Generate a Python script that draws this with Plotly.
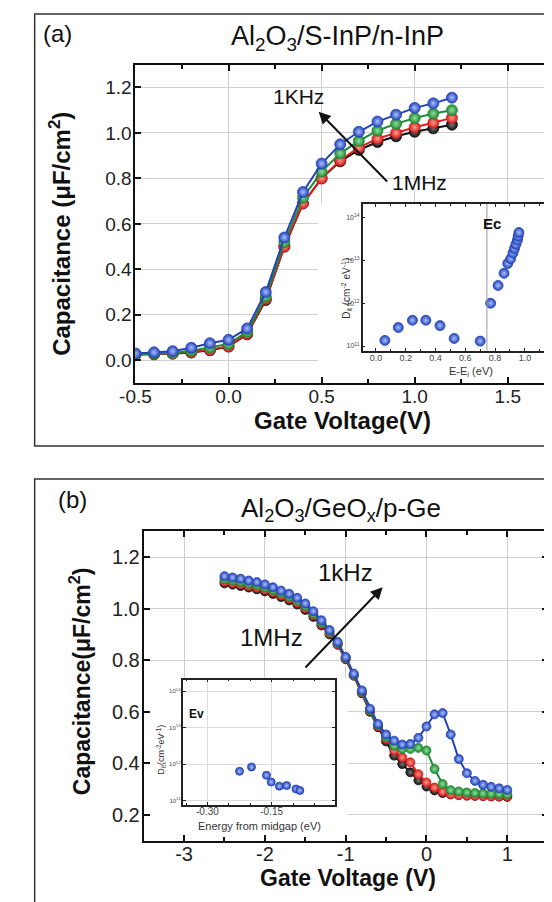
import plotly.graph_objects as go

W, H = 552, 902
FONT = "Liberation Sans, Arial, sans-serif"

# ---------------- Panel (a) : Al2O3/S-InP/n-InP ----------------
va = [-0.5, -0.4, -0.3, -0.2, -0.1, 0.0, 0.1, 0.2, 0.3, 0.4, 0.5, 0.6, 0.7, 0.8, 0.9, 1.0, 1.1, 1.2]
a_1kHz = [0.030, 0.035, 0.040, 0.055, 0.075, 0.090, 0.140, 0.300, 0.540, 0.740, 0.865, 0.950, 1.005, 1.050, 1.080, 1.110, 1.130, 1.155]
a_mid1 = [0.025, 0.030, 0.032, 0.042, 0.056, 0.072, 0.125, 0.280, 0.520, 0.715, 0.830, 0.910, 0.965, 1.010, 1.040, 1.065, 1.085, 1.100]
a_mid2 = [0.025, 0.027, 0.030, 0.036, 0.046, 0.062, 0.116, 0.270, 0.500, 0.690, 0.800, 0.880, 0.935, 0.975, 1.000, 1.025, 1.045, 1.066]
a_1MHz = [0.025, 0.026, 0.029, 0.034, 0.044, 0.060, 0.114, 0.265, 0.500, 0.690, 0.800, 0.875, 0.925, 0.960, 0.985, 1.005, 1.020, 1.036]
a_xticks = [-0.5, 0.0, 0.5, 1.0, 1.5]
a_xlabels = ["-0.5", "0.0", "0.5", "1.0", "1.5"]

# inset (a): Dit vs E-Ei
ia_E = [0.06, 0.15, 0.245, 0.335, 0.43, 0.525, 0.70, 0.77, 0.82, 0.86, 0.885, 0.905, 0.92, 0.93, 0.94, 0.95, 0.955, 0.96]
ia_D = [1.35e11, 2.7e11, 4.0e11, 4.0e11, 3.0e11, 1.5e11, 1.3e11, 1.0e12, 2.6e12, 5.0e12, 8.5e12, 1.1e13, 1.5e13, 1.9e13, 2.4e13, 3.0e13, 3.7e13, 4.5e13]
ia_Ec = 0.745

# ---------------- Panel (b) : Al2O3/GeOx/p-Ge ----------------
vb = [-2.5, -2.4, -2.3, -2.2, -2.1, -2.0, -1.9, -1.8, -1.7, -1.6, -1.5, -1.4, -1.3, -1.2, -1.1, -1.0,
      -0.9, -0.8, -0.7, -0.6, -0.5, -0.4, -0.3, -0.2, -0.1, 0.0, 0.1, 0.2, 0.3, 0.4, 0.5, 0.6, 0.7, 0.8, 0.9, 1.0]
b_1kHz = [1.126, 1.121, 1.116, 1.109, 1.103, 1.094, 1.083, 1.070, 1.058, 1.042, 1.020, 0.990, 0.955, 0.917, 0.871, 0.813,
          0.748, 0.683, 0.612, 0.553, 0.512, 0.488, 0.473, 0.475, 0.499, 0.543, 0.590, 0.595, 0.512, 0.417, 0.362, 0.332,
          0.317, 0.309, 0.303, 0.297]
b_mid1 = [1.114, 1.109, 1.104, 1.097, 1.091, 1.082, 1.072, 1.060, 1.047, 1.031, 1.010, 0.980, 0.946, 0.910, 0.866, 0.809,
          0.744, 0.678, 0.607, 0.548, 0.502, 0.468, 0.456, 0.456, 0.460, 0.450, 0.378, 0.320, 0.296, 0.291, 0.287, 0.285,
          0.283, 0.282, 0.281, 0.280]
b_mid2 = [1.105, 1.100, 1.095, 1.088, 1.082, 1.074, 1.064, 1.052, 1.039, 1.023, 1.002, 0.974, 0.940, 0.905, 0.862, 0.806,
          0.741, 0.675, 0.603, 0.544, 0.495, 0.450, 0.423, 0.404, 0.358, 0.326, 0.306, 0.290, 0.280, 0.277, 0.275, 0.274,
          0.273, 0.272, 0.272, 0.272]
b_1MHz = [1.098, 1.093, 1.088, 1.082, 1.075, 1.067, 1.057, 1.045, 1.032, 1.016, 0.995, 0.968, 0.935, 0.900, 0.860, 0.804,
          0.740, 0.672, 0.600, 0.540, 0.485, 0.430, 0.397, 0.365, 0.334, 0.310, 0.295, 0.285, 0.280, 0.277, 0.275, 0.274,
          0.273, 0.272, 0.271, 0.270]
b_xticks = [-3, -2, -1, 0, 1]
b_xlabels = ["-3", "-2", "-1", "0", "1"]

# inset (b): Dit vs energy from midgap
ib_E = [-0.225, -0.197, -0.162, -0.151, -0.132, -0.115, -0.093, -0.084]
ib_D = [6.4e11, 8.4e11, 5.0e11, 3.25e11, 2.5e11, 2.6e11, 2.1e11, 1.9e11]
ib_xticks = [-0.30, -0.15, 0.0]
ib_xlabels = ["-0.30", "-0.15", "0.00"]

dec_vals = [1e11, 1e12, 1e13, 1e14]
dec_text = ["10<sup>11</sup>", "10<sup>12</sup>", "10<sup>13</sup>", "10<sup>14</sup>"]

# series styles: (dark colour, highlight colour)
STY = {
    "1MHz": ("#111111", "#777777"),
    "mid2": ("#d81e1e", "#ff9a8a"),
    "mid1": ("#1f8a35", "#8fe09a"),
    "1kHz": ("#2443b8", "#a9c0ff"),
}


def px2x(px):
    return px / W


def px2y(py):
    return 1 - py / H


fig = go.Figure()


def add_series(x, y, key, xa, ya, size, showline=True):
    dark, light = STY[key]
    fig.add_trace(go.Scatter(
        x=x, y=y, xaxis=xa, yaxis=ya,
        mode="lines+markers" if showline else "markers",
        line=dict(color=dark, width=2),
        marker=dict(size=size, color=dark, gradient=dict(type="radial", color=light),
                    line=dict(width=0.8, color=dark)),
        showlegend=False, hoverinfo="skip",
    ))


for ys, k in [(a_1MHz, "1MHz"), (a_mid2, "mid2"), (a_mid1, "mid1"), (a_1kHz, "1kHz")]:
    add_series(va, ys, k, "x", "y", 11)
add_series(ia_E, ia_D, "1kHz", "x2", "y2", 10, showline=False)
for ys, k in [(b_1MHz, "1MHz"), (b_mid2, "mid2"), (b_mid1, "mid1"), (b_1kHz, "1kHz")]:
    add_series(vb, ys, k, "x3", "y3", 9)
add_series(ib_E, ib_D, "1kHz", "x4", "y4", 8, showline=False)

GRID = "#cfcfcf"


def main_axis(domain, rng, anchor, size, minor=None, **kw):
    d = dict(domain=domain, range=rng, anchor=anchor,
             showline=True, linewidth=2, linecolor="#111", mirror="ticks",
             ticks="inside", ticklen=6, tickwidth=2, tickcolor="#111",
             showgrid=True, gridcolor=GRID, gridwidth=1, zeroline=False,
             tickfont=dict(family=FONT, size=size, color="#222"))
    if minor:
        d["minor"] = dict(dtick=minor, ticks="inside", ticklen=4, tickwidth=1.5, tickcolor="#111", showgrid=False)
    d.update(kw)
    return d


def inset_axis(domain, rng, size, anchor, **kw):
    d = dict(domain=domain, range=rng, anchor=anchor,
             showline=True, linewidth=1.5, linecolor="#222", mirror="ticks",
             ticks="inside", ticklen=3, tickwidth=1, tickcolor="#222",
             zeroline=False, tickfont=dict(family=FONT, size=size, color="#444"))
    d.update(kw)
    return d


layout = dict(
    width=W, height=H, margin=dict(l=0, r=0, t=0, b=0),
    paper_bgcolor="white", plot_bgcolor="white", showlegend=False,
    xaxis=main_axis([px2x(115), px2x(551)], [-0.5, 1.77], "y", 19, minor=0.25,
                    tickvals=a_xticks, ticktext=a_xlabels, ticklabelstandoff=-5),
    yaxis=main_axis([px2y(375), px2y(56.7)], [-0.1, 1.3], "x", 19, dtick=0.2, tick0=0, tickformat=".1f",
                    ticklabelstandoff=-2),
    xaxis3=main_axis([px2x(123.5), px2x(540.3)], [-3.5, 1.5], "y3", 20, minor=0.5,
                     tickvals=b_xticks, ticktext=b_xlabels, ticklabelstandoff=-6),
    yaxis3=main_axis([px2y(832.7), px2y(523.3)], [0.1, 1.3], "x3", 20, dtick=0.2, tick0=0.2, tickformat=".1f",
                     ticklabelstandoff=-2),
    xaxis2=inset_axis([px2x(349.3), px2x(546)], [-0.09, 1.19], 9, "y2",
                      dtick=0.2, tick0=0, tickformat=".1f", showgrid=False, ticklabelstandoff=-2,
                      minor=dict(dtick=0.1, ticks="inside", ticklen=2, tickcolor="#222")),
    yaxis2=inset_axis([px2y(342.7), px2y(196)], [10.89, 14.32], 7, "x2", type="log",
                      tickvals=dec_vals, ticktext=dec_text, showgrid=False),
    xaxis4=inset_axis([px2x(164.5), px2x(320.4)], [-0.356, -0.003], 10, "y4",
                      tickvals=ib_xticks, ticktext=ib_xlabels, ticklabelstandoff=-3,
                      showgrid=True, gridcolor="#dddddd",
                      minor=dict(dtick=0.05, ticks="inside", ticklen=2, tickcolor="#222")),
    yaxis4=inset_axis([px2y(796.7), px2y(671.7)], [10.89, 14.32], 6, "x4", type="log",
                      tickvals=dec_vals, ticktext=dec_text, showgrid=True, gridcolor="#dddddd"),
)
fig.update_layout(**layout)

# outer frames
fig.add_shape(type="rect", xref="paper", yref="paper", x0=px2x(11), x1=1.02, y0=px2y(438), y1=px2y(6),
              line=dict(color="#333", width=1.5), fillcolor="rgba(0,0,0,0)")
fig.add_shape(type="rect", xref="paper", yref="paper", x0=px2x(11), x1=1.02, y0=-0.02, y1=px2y(471),
              line=dict(color="#333", width=1.5), fillcolor="rgba(0,0,0,0)")
# white masks hiding the main grid behind each inset (above grid, below traces)
fig.add_shape(type="rect", xref="x", yref="y", x0=0.48, x1=1.77, y0=-0.1, y1=0.69,
              layer="between", line=dict(width=0), fillcolor="white")
fig.add_shape(type="rect", xref="x3", yref="y3", x0=-3.5, x1=-0.975, y0=0.1, y1=0.731,
              layer="between", line=dict(width=0), fillcolor="white")
# Ec marker line in inset (a)
fig.add_shape(type="line", xref="x2", yref="y2 domain", x0=ia_Ec, x1=ia_Ec, y0=0, y1=1,
              line=dict(color="#999", width=1))

ann = []


def text(px, py, s, size, bold=False, angle=0, color="#111"):
    ann.append(dict(x=px2x(px), y=px2y(py), xref="paper", yref="paper", showarrow=False,
                    text=("<b>%s</b>" % s) if bold else s, textangle=angle,
                    font=dict(family=FONT, size=size, color=color), xanchor="center", yanchor="middle"))


# panel (a) texts
text(35, 26, "(a)", 24)
text(323, 30, "Al<sub>2</sub>O<sub>3</sub>/S-InP/n-InP", 27)
text(329, 412, "Gate Voltage(V)", 24, bold=True)
text(37, 226, "Capacitance (μF/cm<sup>2</sup>)", 24, bold=True, angle=-90)
text(461.7, 364, "E-E<sub>i</sub> (eV)", 11, color="#333")
text(332, 280, "D<sub>it</sub> (cm<sup>-2</sup> eV<sup>-1</sup>)", 10, angle=-90, color="#333")

# panel (b) texts
text(50, 491, "(b)", 24)
text(327, 501, "Al<sub>2</sub>O<sub>3</sub>/GeO<sub>x</sub>/p-Ge", 26)
text(334, 870, "Gate Voltage (V)", 23, bold=True)
text(58, 673, "Capacitance(μF/cm<sup>2</sup>)", 23, bold=True, angle=-90)
text(243, 818, "Energy from midgap (eV)", 11, color="#333")
text(141, 742, "D<sub>it</sub>(cm<sup>-2</sup>eV<sup>-1</sup>)", 9, angle=-90, color="#333")

# data-referenced labels and arrows
ann += [
    dict(x=0.374, y=1.162, xref="x", yref="y", text="1KHz", showarrow=False,
         font=dict(family=FONT, size=21, color="#111")),
    dict(x=1.026, y=0.784, xref="x", yref="y", text="1MHz", showarrow=False,
         font=dict(family=FONT, size=21, color="#111")),
    dict(x=0.484, y=1.093, ax=0.86, ay=0.78, xref="x", yref="y", axref="x", ayref="y", text="",
         showarrow=True, arrowhead=2, arrowsize=1.2, arrowwidth=2, arrowcolor="#111"),
    dict(x=0.78, y=13.87, xref="x2", yref="y2", text="<b>Ec</b>", showarrow=False,
         font=dict(family=FONT, size=15, color="#111")),
    dict(x=-1.008, y=1.142, xref="x3", yref="y3", text="1kHz", showarrow=False,
         font=dict(family=FONT, size=24, color="#111")),
    dict(x=-1.918, y=0.889, xref="x3", yref="y3", text="1MHz", showarrow=False,
         font=dict(family=FONT, size=24, color="#111")),
    dict(x=-0.542, y=1.083, ax=-1.516, ay=0.766, xref="x3", yref="y3", axref="x3", ayref="y3", text="",
         showarrow=True, arrowhead=2, arrowsize=1.2, arrowwidth=2, arrowcolor="#111"),
    dict(x=-0.325, y=13.375, xref="x4", yref="y4", text="<b>Ev</b>", showarrow=False,
         font=dict(family=FONT, size=12, color="#111")),
]
fig.update_layout(annotations=ann)

fig.write_html("out.html")
